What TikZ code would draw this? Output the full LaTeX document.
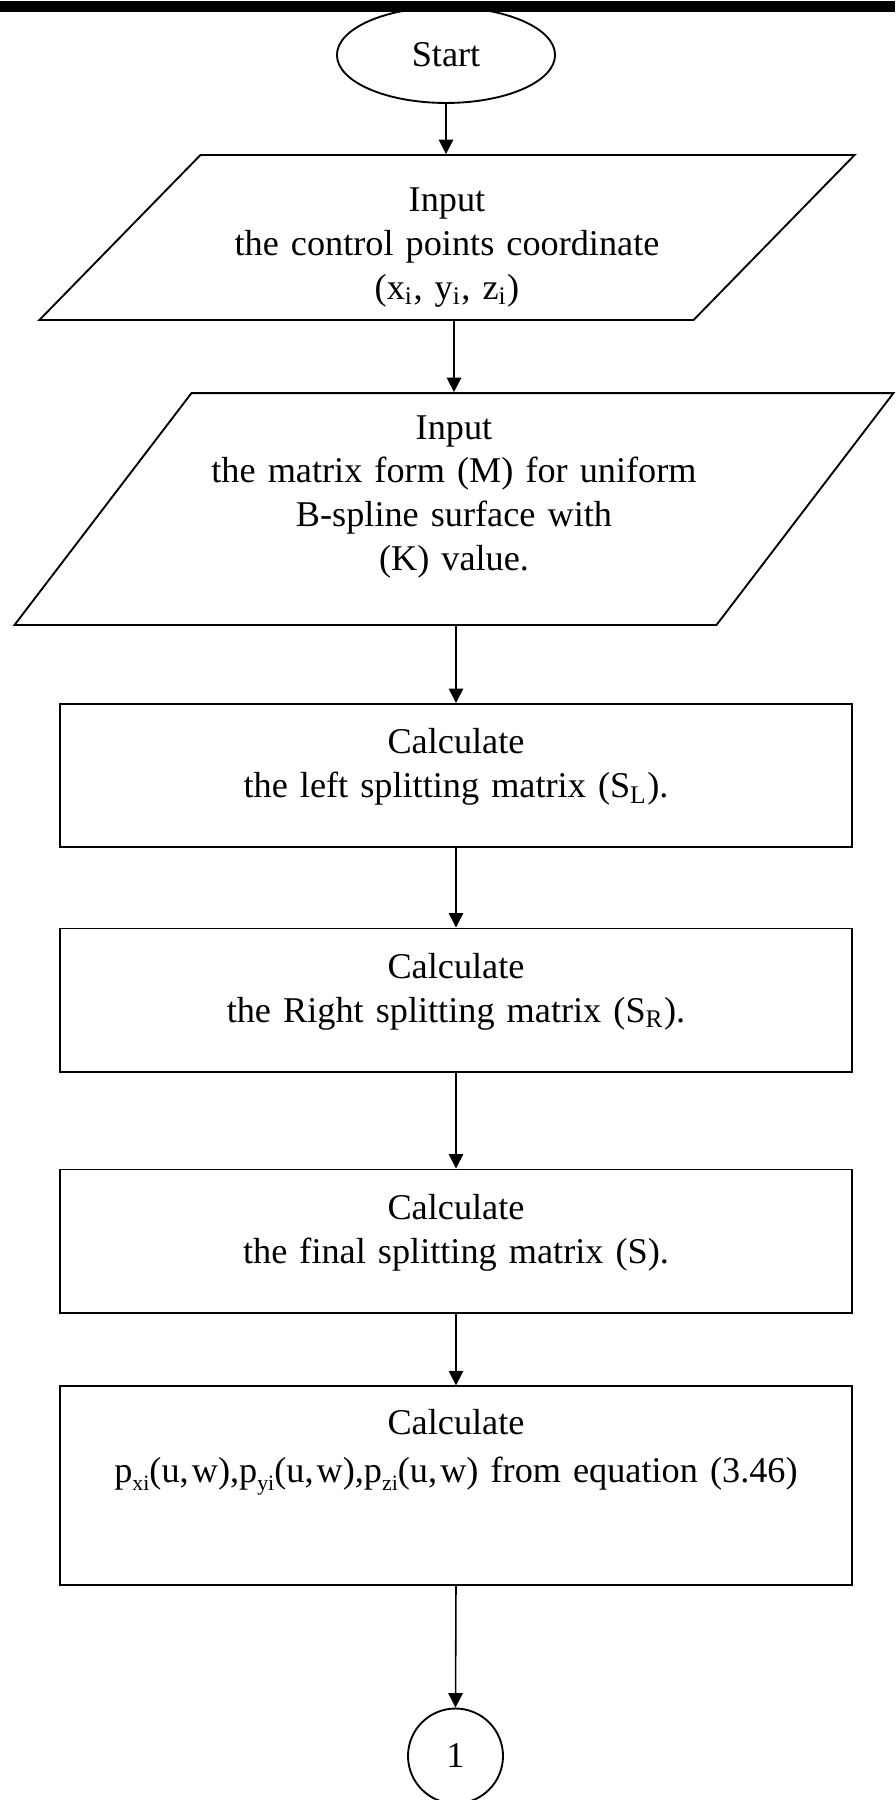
\documentclass[tikz,border=0pt]{standalone}
\usepackage{fontspec}
\setmainfont{Liberation Serif}
\usetikzlibrary{positioning}
\usetikzlibrary{shapes.geometric}
\usetikzlibrary{arrows.meta}

% small, low index as in an equation object
\newcommand{\lowidx}[1]{\raisebox{-0.45ex}{\fontsize{7}{7}\selectfont #1}}

\tikzset{
	every node/.style={font=\fontsize{11.6}{14}\selectfont},
	terminal/.style={draw, ellipse, line width=0.6pt, minimum width=69.8pt, minimum height=30.7pt, inner sep=0pt},
	iobox/.style={draw, trapezium, line width=0.6pt, inner sep=0pt, align=center},
	procbox/.style={draw, rectangle, line width=0.6pt, inner sep=0pt, align=center, text width=253.4pt, text height=16pt, text depth=#1},
	procbox/.default=29.8pt,
	connector/.style={draw, circle, line width=0.6pt, minimum size=30.4pt, inner sep=0pt},
	flow/.style={-{Triangle[length=4.6pt,width=4.6pt]}, line width=0.5pt},
}

\begin{document}
\begin{tikzpicture}[x=0.32pt, y=-0.32pt]
	\useasboundingbox (0,0) rectangle (895,1800);
	
	% terminal, half hidden under the page rule
	\node[terminal] (start) at (446,55) {Start};
	\fill (0,1.5) rectangle (895,12);
	
	% the two inputs: parallelograms from trapezium shapes
	\node[iobox, trapezium left angle=45.7, trapezium right angle=134.3,
		text width=157.8pt, text height=18.2pt, text depth=34.6pt] (in1) at (447,237.5)
		{Input\\the control points coordinate\\(x\textsubscript{i}, y\textsubscript{i}, z\textsubscript{i})};
	\node[iobox, trapezium left angle=52.65, trapezium right angle=127.35,
		text width=168pt, text height=14.7pt, text depth=59.5pt] (in2) at (454,509)
		{Input\\the matrix form (M) for uniform\\B-spline surface with\\(K) value.};
	
	% processing steps
	\node[procbox] (sl) at (456,775.5) {Calculate\\the left splitting matrix (S\textsubscript{L}).};
	\node[procbox] (sr) at (456,1000) {Calculate\\the Right splitting matrix (S\textsubscript{R}).};
	\node[procbox] (sf) at (456,1241) {Calculate\\the final splitting matrix (S).};
	\node[procbox=48pt, text height=15.5pt, font=\fontsize{11.6}{15.4}\selectfont] (pw) at (456,1485.5)
		{Calculate\\p\lowidx{xi}(u,\kern1pt w),p\lowidx{yi}(u,\kern1pt w),p\lowidx{zi}(u,\kern1pt w) from equation (3.46)};
	
	% off-page connector
	\node[connector] (one) at (455.5,1756) {1};
	
	% flow lines
	\draw[flow] (start.south) -- (start.south |- in1.north);
	\draw[flow] (in2 |- in1.south) -- (in2 |- in2.north);
	\draw[flow] (sl |- in2.south) -- (sl.north);
	\draw[flow] (sl.south) -- (sr.north);
	\draw[flow] (sr.south) -- (sf.north);
	\draw[flow] (sf.south) -- (pw.north);
	\draw[flow] (pw.south) -- (one.north);
\end{tikzpicture}
\end{document}
